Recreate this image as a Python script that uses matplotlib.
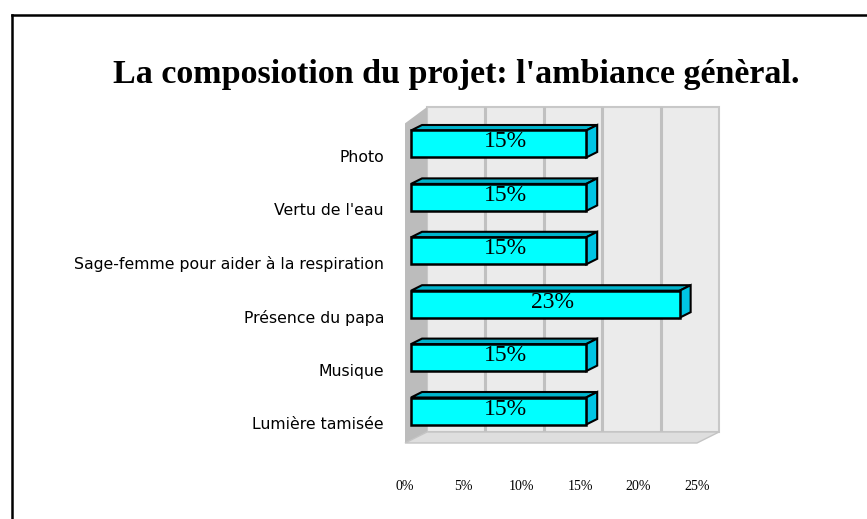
import matplotlib.pyplot as plt
from matplotlib.patches import Polygon, Rectangle
from matplotlib.lines import Line2D

# chart data
categories = ["Lumière tamisée", "Musique", "Présence du papa",
              "Sage-femme pour aider à la respiration", "Vertu de l'eau", "Photo"]
values = [15, 15, 23, 15, 15, 15]
value_labels = ["15%", "15%", "23%", "15%", "15%", "15%"]
ticks = [0, 5, 10, 15, 20, 25]
tick_labels = ["0%", "5%", "10%", "15%", "20%", "25%"]
title = "La composiotion du projet: l'ambiance génèral."

W, H = 867, 519
fig = plt.figure(figsize=(W / 100, H / 100), dpi=100)

# front plane of the 3D box, in pixels
left_px, right_px, top_px, bot_px = 405, 697, 118, 443
ax = fig.add_axes([left_px / W, 1 - bot_px / H,
                   (right_px - left_px) / W, (bot_px - top_px) / H])
xmax = 25
ylo, yhi = -0.543, len(categories) - 1 + 0.543
ax.set_xlim(0, xmax)
ax.set_ylim(ylo, yhi)
ax.axis("off")

sx = (right_px - left_px) / xmax          # px per percent
sy = (bot_px - top_px) / (yhi - ylo)      # px per category


def off(px, py):
    return px / sx, py / sy


# walls
wdx, wdy = off(22, 11)
back = Rectangle((wdx, ylo + wdy), xmax, yhi - ylo, facecolor="#ebebeb",
                 edgecolor="#c8c8c8", lw=1.5, zorder=1, clip_on=False)
ax.add_patch(back)
for t in ticks[1:-1]:
    ax.plot([t + wdx, t + wdx], [ylo + wdy, yhi + wdy], color="#c0c0c0",
            lw=2.2, zorder=2, solid_capstyle="butt", clip_on=False)
side = Polygon([(0, ylo), (wdx, ylo + wdy), (wdx, yhi + wdy), (0, yhi - 0.1)],
               closed=True, facecolor="#bcbcbc", edgecolor="none", zorder=3,
               clip_on=False)
ax.add_patch(side)
floor = Polygon([(0, ylo), (xmax, ylo), (xmax + wdx, ylo + wdy), (wdx, ylo + wdy)],
                closed=True, facecolor="#dedede", edgecolor="#c4c4c4", lw=1,
                zorder=3, clip_on=False)
ax.add_patch(floor)

# bars
bx, by = off(6, 3)
ddx, ddy = off(11, 5.5)
h = 27 / sy
for i, (v, lab) in enumerate(zip(values, value_labels)):
    x0 = bx
    y0 = i - h / 2 + by
    y1 = y0 + h
    top = Polygon([(x0, y1), (x0 + v, y1), (x0 + v + ddx, y1 + ddy), (x0 + ddx, y1 + ddy)],
                  closed=True, facecolor="#00b4cc", edgecolor="black", lw=1.5,
                  zorder=5, clip_on=False)
    side_f = Polygon([(x0 + v, y0), (x0 + v + ddx, y0 + ddy), (x0 + v + ddx, y1 + ddy), (x0 + v, y1)],
                     closed=True, facecolor="#00c4e4", edgecolor="black", lw=1.5,
                     zorder=5, clip_on=False)
    front = Rectangle((x0, y0), v, h, facecolor="#00ffff", edgecolor="black",
                      lw=1.8, zorder=6, clip_on=False)
    ax.add_patch(top)
    ax.add_patch(side_f)
    ax.add_patch(front)
    ax.text(x0 + v / 2 + 0.6, i + by + 2 / sy, lab, ha="center", va="center",
            fontsize=17, family="Liberation Serif", zorder=7)
    ax.text(-21 / sx, i - 10.5 / sy, categories[i], ha="right", va="center",
            fontsize=11.3, family="DejaVu Sans", clip_on=False)

# x tick labels
for t, tl in zip(ticks, tick_labels):
    ax.text(t, ylo - 44 / sy, tl, ha="center", va="center", fontsize=10,
            family="Liberation Serif", clip_on=False)

fig.text(456.5 / W, 1 - 75 / H, title, ha="center", va="center",
         fontsize=24.5, fontweight="bold", family="Liberation Serif")

# frame around the chart (only top and left visible)
fig.add_artist(Line2D([11.5 / W, 11.5 / W], [0, 1 - 15 / H], color="black",
                      lw=1.8, transform=fig.transFigure))
fig.add_artist(Line2D([11.5 / W, 1], [1 - 15 / H, 1 - 15 / H], color="black",
                      lw=1.8, transform=fig.transFigure))

fig.savefig("out.png", dpi=100)
